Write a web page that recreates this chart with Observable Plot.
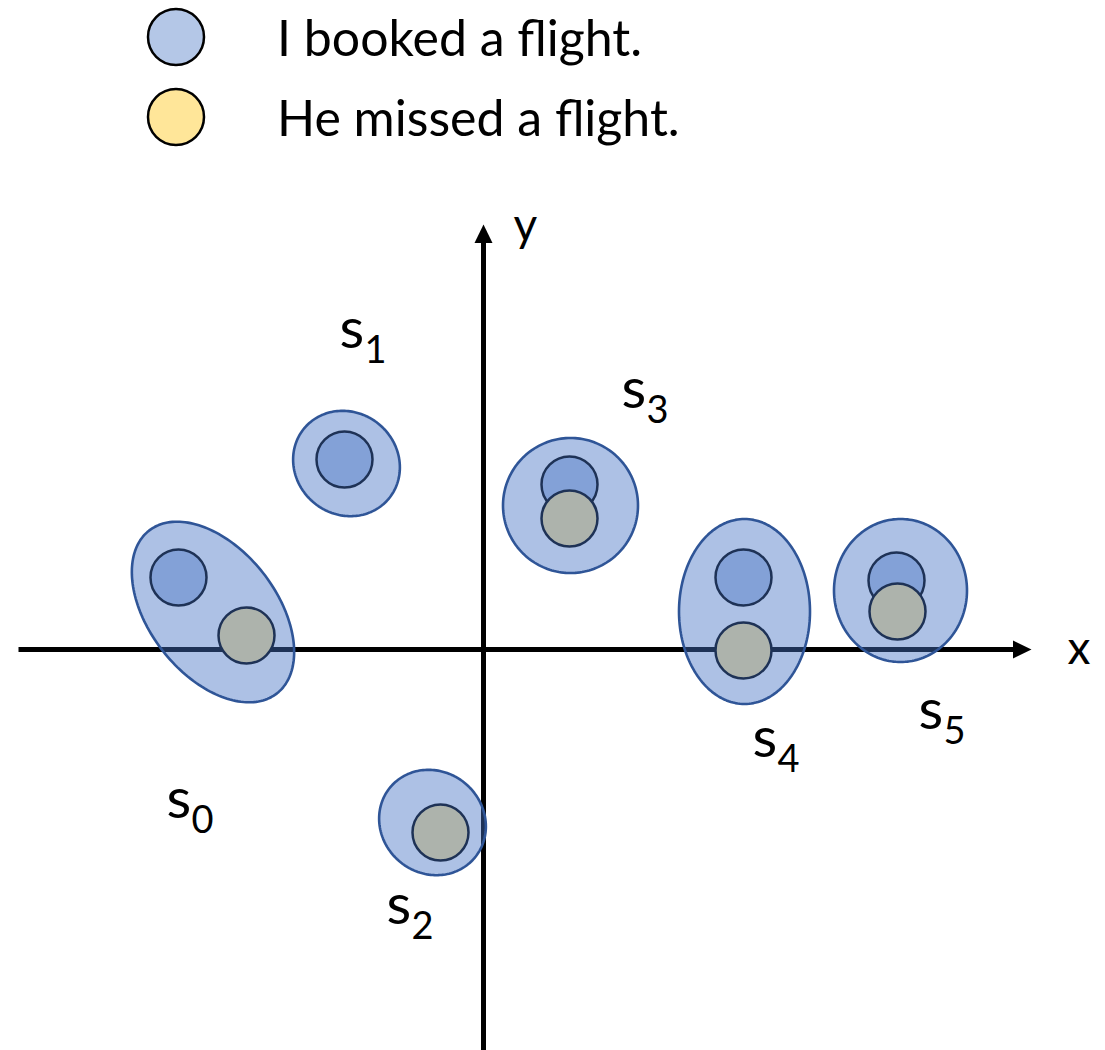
<!DOCTYPE html>
<html>
<head>
<meta charset="utf-8">
<script src="https://cdn.jsdelivr.net/npm/d3@7"></script>
<script src="https://cdn.jsdelivr.net/npm/@observablehq/plot@0.6"></script>
<style>
  body { margin: 0; background: #fff; }
  #legend, #chart, #legend svg, #chart svg { display: block; }
  svg { font-family: Lato, "Open Sans", sans-serif; }
</style>
</head>
<body>
<div id="legend"></div>
<div id="chart"></div>
<script>
// ---- data ----
const legendKeys = ["booked", "missed"];
const legendLabels = ["I booked a flight.", "He missed a flight."];
const legendColors = ["#b4c7e7", "#ffe699"];

const setIds = ["0", "1", "2", "3", "4", "5"];
const labelX = [-3.17, -1.44, -0.97, 1.38, 2.69, 4.35];
const labelY = [-1.68, 3.02, -2.74, 2.42, -1.07, -0.79];

const ellCX = [-2.705, -1.37, -0.51, 0.87, 2.61, 4.17];
const ellCY = [0.375, 1.86, -1.73, 1.44, 0.38, 0.59];
const ellRX = [1.035, 0.55, 0.55, 0.675, 0.655, 0.665];
const ellRY = [0.635, 0.51, 0.51, 0.675, 0.925, 0.715];
const ellAngle = [-51.8, -40, -40, 0, 0, 0];

const dotSet = ["0", "0", "1", "2", "3", "3", "4", "4", "5", "5"];
const dotKind = ["booked", "missed", "booked", "missed", "booked", "missed", "booked", "missed", "booked", "missed"];
const dotX = [-3.05, -2.37, -1.39, -0.43, 0.86, 0.86, 2.60, 2.60, 4.13, 4.14];
const dotY = [0.72, 0.14, 1.90, -1.83, 1.65, 1.31, 0.72, -0.01, 0.69, 0.38];

const axisNames = ["x", "y"];
const axisFrom = [-4.65, -4.01];
const axisTip = [5.48, 4.25];
const axisLabelX = [5.84, 0.30];
const axisLabelY = [-0.14, 4.09];

// ---- legend ----
const leg = d3.select("#legend").append("svg").attr("width", 1105).attr("height", 180);
legendLabels.forEach((t, i) => {
  const cy = 37 + i * 80;
  leg.append("circle").attr("cx", 176).attr("cy", cy).attr("r", 28)
    .attr("fill", legendColors[i]).attr("stroke", "#000").attr("stroke-width", 2.5);
  leg.append("text").attr("x", 277).attr("y", cy + 19).attr("font-size", 50)
    .attr("fill", "#000").text(t);
});

// ---- geometry built from data ----
const ellipses = setIds.map((id, i) => ({id, cx: ellCX[i], cy: ellCY[i], rx: ellRX[i], ry: ellRY[i], a: ellAngle[i]}));
const ellPts = [];
for (const e of ellipses) {
  const th = e.a * Math.PI / 180;
  for (let k = 0; k < 180; k++) {
    const t = (k / 180) * 2 * Math.PI;
    ellPts.push({
      id: e.id,
      x: e.cx + e.rx * Math.cos(t) * Math.cos(th) - e.ry * Math.sin(t) * Math.sin(th),
      y: e.cy + e.rx * Math.cos(t) * Math.sin(th) + e.ry * Math.sin(t) * Math.cos(th)
    });
  }
}
const dots = dotX.map((x, i) => ({x, y: dotY[i], kind: dotKind[i], set: dotSet[i]}));
const labels = setIds.map((id, i) => ({id, x: labelX[i], y: labelY[i]}));

const headLen = 0.185, headHalf = 0.09;
const axisLines = [
  {x1: axisFrom[0], y1: 0, x2: axisTip[0] - headLen + 0.02, y2: 0},
  {x1: 0, y1: axisFrom[1], x2: 0, y2: axisTip[1] - headLen + 0.02}
];
const heads = [
  {id: "x", x: axisTip[0], y: 0}, {id: "x", x: axisTip[0] - headLen, y: headHalf}, {id: "x", x: axisTip[0] - headLen, y: -headHalf},
  {id: "y", x: 0, y: axisTip[1]}, {id: "y", x: headHalf, y: axisTip[1] - headLen}, {id: "y", x: -headHalf, y: axisTip[1] - headLen}
];
const axisLabels = axisNames.map((n, i) => ({n, x: axisLabelX[i], y: axisLabelY[i]}));

const chart = Plot.plot({
  width: 1105,
  height: 870,
  margin: 0,
  x: {domain: [-4.83, 6.22], axis: null},
  y: {domain: [-4.01, 4.69], axis: null},
  color: {domain: legendKeys, range: legendColors},
  style: {fontFamily: "Lato, 'Open Sans', sans-serif", background: "#fff"},
  marks: [
    Plot.link(axisLines, {x1: "x1", y1: "y1", x2: "x2", y2: "y2", stroke: "#000", strokeWidth: 5}),
    Plot.line(heads, {x: "x", y: "y", z: "id", curve: "linear-closed", fill: "#000", stroke: "none"}),
    Plot.dot(dots, {x: "x", y: "y", r: 28, fill: "kind", fillOpacity: 1, stroke: "#000", strokeWidth: 2.5}),
    Plot.line(ellPts, {x: "x", y: "y", z: "id", curve: "linear-closed", fill: "#4472c4", fillOpacity: 0.44, stroke: "#2f5597", strokeWidth: 2.6}),
    Plot.text(labels, {x: "x", y: "y", text: () => "s", fontSize: 57, textAnchor: "start", lineAnchor: "bottom", fill: "#000"}),
    Plot.text(labels, {x: "x", y: "y", text: "id", dx: 25, dy: 15, fontSize: 38, textAnchor: "start", lineAnchor: "bottom", fill: "#000"}),
    Plot.text(axisLabels, {x: "x", y: "y", text: "n", fontSize: 46, textAnchor: "start", lineAnchor: "bottom", fill: "#000"})
  ]
});
document.getElementById("chart").appendChild(chart);
</script>
</body>
</html>
